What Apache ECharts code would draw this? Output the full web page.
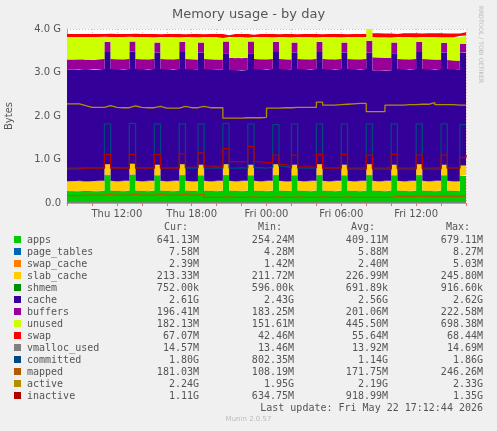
<!DOCTYPE html>
<html><head><meta charset="utf-8">
<script src="https://cdn.jsdelivr.net/npm/echarts@6/dist/echarts.min.js"></script>
<style>html,body{margin:0;padding:0;background:#f0f0f0}#c{width:497px;height:431px}</style>
</head><body><div id="c"></div>
<script>
const startHour = 8, stepHour = 0.5;
const xTickLabels = {12:'Thu 12:00',18:'Thu 18:00',24:'Fri 00:00',30:'Fri 06:00',36:'Fri 12:00'};
const yTickLabels = ['0.0','1.0 G','2.0 G','3.0 G','4.0 G'];
const apps = [.27,.27,.28,.27,.27,.28,.64,.28,.27,.28,.65,.28,.27,
 .28,.63,.28,.27,.28,.64,.28,.27,.63,.28,.27,.28,.64,
 .28,.27,.28,.63,.28,.27,.28,.64,.28,.27,.63,.28,.27,
 .28,.64,.28,.27,.28,.63,.28,.27,.28,.64,.28,.27,.28,
 .63,.28,.27,.28,.64,.28,.27,.28,.63,.28,.27,.62,.64];
const page_tables = [.006,.006,.006,.006,.006,.006,.008,.006,.006,.006,.008,.006,.006,
 .006,.008,.006,.006,.006,.008,.006,.006,.008,.006,.006,.006,.008,
 .006,.006,.006,.008,.006,.006,.006,.008,.006,.006,.008,.006,.006,
 .006,.008,.006,.006,.006,.008,.006,.006,.006,.008,.006,.006,.006,
 .008,.006,.006,.006,.008,.006,.006,.006,.008,.006,.006,.008,.008];
const swap_cache = [.002,.002,.002,.002,.002,.002,.003,.002,.002,.002,.003,.002,.002,
 .002,.003,.002,.002,.002,.003,.002,.002,.003,.002,.002,.002,.003,
 .002,.002,.002,.003,.002,.002,.002,.003,.002,.002,.003,.002,.002,
 .002,.003,.002,.002,.002,.003,.002,.002,.002,.003,.002,.002,.002,
 .003,.002,.002,.002,.003,.002,.002,.002,.003,.002,.002,.003,.002];
const slab_cache = [.22,.22,.22,.22,.22,.22,.24,.22,.22,.22,.24,.22,.22,
 .22,.24,.22,.22,.22,.24,.22,.22,.24,.22,.22,.22,.24,
 .22,.22,.22,.24,.22,.22,.22,.24,.22,.22,.24,.22,.22,
 .22,.24,.22,.22,.22,.24,.22,.22,.22,.24,.22,.22,.22,
 .24,.22,.22,.22,.24,.22,.22,.22,.24,.22,.22,.23,.21];
const shmem = [.0007,.0007,.0007,.0007,.0007,.0007,.0009,.0007,.0007,.0007,.0009,.0007,.0007,
 .0007,.0009,.0007,.0007,.0007,.0009,.0007,.0007,.0009,.0007,.0007,.0007,.0009,
 .0007,.0007,.0007,.0009,.0007,.0007,.0007,.0009,.0007,.0007,.0009,.0007,.0007,
 .0007,.0009,.0007,.0007,.0007,.0009,.0007,.0007,.0007,.0009,.0007,.0007,.0007,
 .0009,.0007,.0007,.0007,.0009,.0007,.0007,.0007,.0009,.0007,.0007,.0008,.0008];
const cache = [2.57,2.57,2.57,2.56,2.57,2.57,2.58,2.57,2.57,2.57,2.58,2.57,2.57,
 2.57,2.58,2.57,2.57,2.57,2.58,2.57,2.57,2.58,2.57,2.57,2.56,2.55,
 2.55,2.55,2.55,2.56,2.57,2.57,2.57,2.58,2.57,2.57,2.58,2.57,2.57,
 2.57,2.58,2.57,2.57,2.57,2.58,2.57,2.57,2.57,2.56,2.54,2.54,2.54,
 2.56,2.57,2.57,2.57,2.58,2.57,2.57,2.57,2.58,2.57,2.57,2.60,2.61];
const buffers = [.23,.23,.23,.23,.23,.23,.23,.23,.23,.23,.23,.23,.23,
 .23,.23,.23,.23,.23,.23,.23,.23,.23,.23,.23,.23,.27,
 .28,.28,.28,.27,.23,.23,.23,.23,.23,.23,.23,.23,.23,
 .23,.23,.23,.23,.23,.23,.23,.23,.23,.28,.30,.30,.29,
 .25,.23,.23,.23,.23,.23,.23,.22,.22,.21,.20,.20,.20];
const unused = [.52,.52,.51,.53,.52,.51,.12,.51,.52,.51,.11,.51,.52,
 .51,.12,.51,.52,.51,.11,.51,.52,.12,.51,.52,.52,.08,
 .48,.49,.48,.09,.51,.52,.51,.11,.51,.52,.12,.51,.52,
 .51,.11,.51,.52,.51,.12,.51,.52,.51,.47,.47,.47,.47,
 .11,.51,.52,.51,.11,.51,.52,.52,.13,.52,.54,.18,.18];
const swap = [.067,.067,.067,.067,.067,.067,.067,.067,.067,.067,.067,.067,.067,
 .067,.067,.067,.067,.067,.067,.067,.067,.067,.067,.067,.067,.067,
 .067,.067,.067,.067,.067,.067,.067,.067,.067,.067,.067,.067,.067,
 .067,.067,.067,.067,.067,.067,.067,.067,.067,.08,.085,.085,.085,
 .085,.085,.085,.085,.085,.085,.085,.085,.085,.085,.085,.085,.085];
const vmalloc_used = [.0146,.0146,.0146,.0146,.0146,.0146,.0146,.0146,.0146,.0146,.0146,.0146,.0146,
 .0146,.0146,.0146,.0146,.0146,.0146,.0146,.0146,.0146,.0146,.0146,.0146,.0146,
 .0146,.0146,.0146,.0146,.0146,.0146,.0146,.0146,.0146,.0146,.0146,.0146,.0146,
 .0146,.0146,.0146,.0146,.0146,.0146,.0146,.0146,.0146,.0146,.0146,.0146,.0146,
 .0146,.0146,.0146,.0146,.0146,.0146,.0146,.0146,.0146,.0146,.0146,.0146,.0146];
const committed = [.80,.80,.81,.80,.80,.81,1.82,.81,.80,.80,1.83,.80,.80,
 .81,1.82,.80,.80,.81,1.82,.80,.80,1.82,.80,.81,.80,1.83,
 .80,.81,.80,1.82,.81,.80,.82,1.80,.84,.80,1.82,.80,.80,
 .81,1.82,.80,.80,.81,1.82,.80,.80,.81,1.82,.80,.80,.81,
 1.82,.80,.80,.81,1.82,.80,.80,.81,1.82,.80,.80,1.80,1.80];
const mapped = [.17,.17,.18,.18,.18,.18,.20,.18,.18,.18,.20,.18,.18,
 .18,.20,.18,.18,.18,.20,.18,.18,.20,.13,.13,.13,.14,
 .13,.13,.13,.14,.13,.13,.13,.14,.13,.13,.14,.13,.13,
 .13,.14,.13,.13,.13,.14,.13,.13,.13,.13,.13,.13,.13,
 .15,.15,.15,.15,.16,.15,.15,.15,.16,.15,.15,.17,.18];
const active = [2.28,2.28,2.24,2.20,2.20,2.20,2.24,2.20,2.19,2.19,2.23,2.20,2.19,
 2.19,2.22,2.18,2.18,2.18,2.22,2.19,2.19,2.22,2.19,2.19,2.19,1.95,
 1.95,1.95,1.96,1.96,1.96,1.97,2.18,2.18,2.19,2.19,2.20,2.20,2.20,
 2.20,2.32,2.25,2.25,2.26,2.27,2.28,2.29,2.29,2.10,2.10,2.10,2.25,
 2.25,2.25,2.26,2.26,2.27,2.27,2.31,2.26,2.26,2.26,2.25,2.25,2.24];
const inactive = [.78,.78,.80,.80,.80,.80,1.12,.80,.80,.80,1.12,.80,.80,
 .80,1.12,.80,.80,.80,1.13,.82,.82,1.15,.85,.85,.85,1.25,
 .95,.95,.95,1.30,.95,.93,.93,1.10,.88,.85,1.10,.83,.83,
 .82,1.12,.80,.80,.80,1.12,.78,.78,.78,1.10,.78,.78,.78,
 1.12,.78,.78,.78,1.10,.78,.78,.78,1.10,.80,.80,1.05,1.11];
const legendRows = [
 ['apps','#00cc00','641.13M','254.24M','409.11M','679.11M'],
 ['page_tables','#0066b3','7.58M','4.28M','5.88M','8.27M'],
 ['swap_cache','#ff8000','2.39M','1.42M','2.40M','5.03M'],
 ['slab_cache','#ffcc00','213.33M','211.72M','226.99M','245.80M'],
 ['shmem','#008f00','752.00k','596.00k','691.89k','916.60k'],
 ['cache','#330099','2.61G','2.43G','2.56G','2.62G'],
 ['buffers','#990099','196.41M','183.25M','201.06M','222.58M'],
 ['unused','#ccff00','182.13M','151.61M','445.50M','698.38M'],
 ['swap','#ff0000','67.07M','42.46M','55.64M','68.44M'],
 ['vmalloc_used','#808080','14.57M','13.46M','13.92M','14.69M'],
 ['committed','#00487d','1.80G','802.35M','1.14G','1.86G'],
 ['mapped','#b35a00','181.03M','108.19M','171.75M','246.26M'],
 ['active','#b38f00','2.24G','1.95G','2.19G','2.33G'],
 ['inactive','#b30000','1.11G','634.75M','918.99M','1.35G']];

const hours = apps.map((_,i)=>startHour+stepHour*i);
const areas = [['apps',apps,'#00cc00'],['page_tables',page_tables,'#0066b3'],['swap_cache',swap_cache,'#ff8000'],
 ['slab_cache',slab_cache,'#ffcc00'],['shmem',shmem,'#008f00'],['cache',cache,'#330099'],['buffers',buffers,'#990099'],
 ['unused',unused,'#ccff00'],['swap',swap,'#ff0000']];
const lines = [['vmalloc_used',vmalloc_used,'#808080'],['committed',committed,'#00487d'],['mapped',mapped,'#b35a00'],
 ['active',active,'#b38f00'],['inactive',inactive,'#b30000']];
const series = [];
areas.forEach(([n,d,c])=>series.push({name:n,type:'line',stack:'m',step:'end',data:d,symbol:'none',
 lineStyle:{width:0},areaStyle:{color:c,opacity:1},itemStyle:{color:c},silent:true}));
lines.forEach(([n,d,c])=>series.push({name:n,type:'line',step:'end',data:d,symbol:'none',
 lineStyle:{width:1.3,color:c},itemStyle:{color:c},silent:true}));

const mono = '"DejaVu Sans Mono", monospace';
const g = [];
g.push({type:'text',left:'center',top:8,style:{text:'Memory usage - by day',font:'13px "DejaVu Sans"',fill:'#555'}});
g.push({type:'text',x:4,y:130,rotation:Math.PI/2,style:{text:'Bytes',font:'10px "DejaVu Sans"',fill:'#555'}});
g.push({type:'text',x:484,y:6,rotation:-Math.PI/2,style:{text:'RRDTOOL / TOBI OETIKER',font:'6px "DejaVu Sans"',fill:'#bbb'}});
const hdrY = 222;
[['Cur:',188],['Min:',282],['Avg:',375],['Max:',470]].forEach(([t,x])=>g.push({type:'text',x:x,y:hdrY,style:{text:t,font:'10px '+mono,fill:'#555',align:'right'}}));
const cols=[199,294,388,483];
legendRows.forEach((r,i)=>{
 const y = 235+12*i;
 g.push({type:'rect',shape:{x:14,y:y+1,width:7,height:7},style:{fill:r[1]}});
 g.push({type:'text',x:27,y:y,style:{text:r[0],font:'10px '+mono,fill:'#555'}});
 for(let k=0;k<4;k++) g.push({type:'text',x:cols[k],y:y,style:{text:r[2+k],font:'10px '+mono,fill:'#555',align:'right'}});
});
g.push({type:'text',x:483,y:403,style:{text:'Last update: Fri May 22 17:12:44 2026',font:'10px '+mono,fill:'#555',align:'right'}});
g.push({type:'text',left:'center',top:416,style:{text:'Munin 2.0.57',font:'7px "DejaVu Sans"',fill:'#bbb'}});

const chart = echarts.init(document.getElementById('c'));
chart.setOption({
 backgroundColor:'#f0f0f0', animation:false,
 grid:{left:67,right:31,top:29,bottom:228,backgroundColor:'#ffffff',show:true,borderWidth:0},
 xAxis:{type:'category',data:hours,boundaryGap:false,
  axisLine:{lineStyle:{color:'#aaa'}},axisTick:{show:true,length:3,interval:3,lineStyle:{color:'#ff6666'}},
  axisLabel:{formatter:v=>xTickLabels[v]||'',color:'#555',fontSize:10,fontFamily:'DejaVu Sans',margin:6,interval:0,hideOverlap:false},
  splitLine:{show:true,interval:3,lineStyle:{color:'#f2b0b0',type:[1,2],width:1}}},
 yAxis:{type:'value',min:0,max:4,interval:1,
  axisLine:{show:true,lineStyle:{color:'#aaa'}},axisTick:{show:false},
  axisLabel:{formatter:v=>yTickLabels[Math.round(v)],color:'#555',fontSize:10,fontFamily:'DejaVu Sans',margin:6},
  splitLine:{show:true,lineStyle:{color:'#f2b0b0',type:[1,2]}},
  minorTick:{show:false,splitNumber:4},minorSplitLine:{show:true,lineStyle:{color:'#f2c8c8',type:[1,3]}}},
 series:series, graphic:g
});
</script></body></html>
